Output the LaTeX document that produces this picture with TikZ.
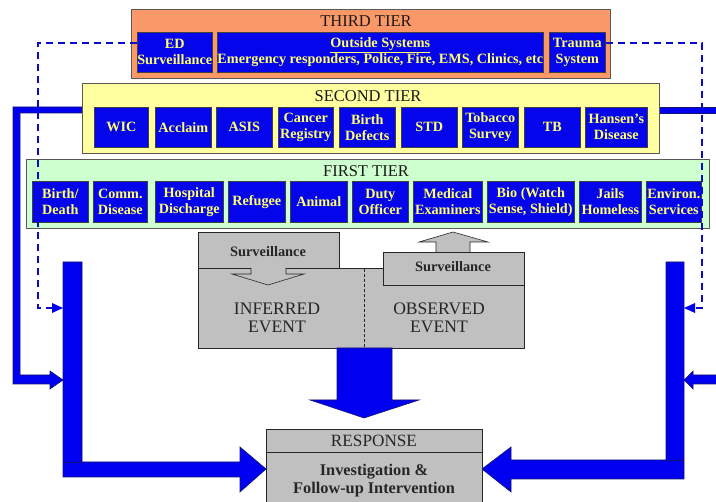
\documentclass[tikz,border=0pt]{standalone}
\usepackage{fontspec}
\setmainfont{Liberation Serif}
\definecolor{boxblue}{RGB}{5,5,235}
\definecolor{txtyellow}{RGB}{255,255,110}
\definecolor{tierorange}{RGB}{250,152,104}
\definecolor{tieryellow}{RGB}{255,255,160}
\definecolor{tiergreen}{RGB}{206,255,206}
\definecolor{graybox}{RGB}{192,192,192}
\definecolor{linkblue}{RGB}{0,0,240}
\definecolor{dashblue}{RGB}{10,10,200}
\definecolor{edgeblue}{RGB}{20,20,110}
\begin{document}
\begin{tikzpicture}[x=1pt,y=-1pt,
  tier/.style={draw=black!65, line width=0.8pt, inner sep=0pt, anchor=north west},
  tiertitle/.style={text=black!90, font=\fontsize{16.5}{17}\selectfont, inner sep=0pt},
  bbox/.style={draw=black!75, line width=0.6pt, fill=boxblue, text=txtyellow,
    font=\bfseries\fontsize{14.2}{16}\selectfont, align=center, inner sep=0pt, anchor=north west},
  gbox/.style={draw=black!85, line width=0.8pt, fill=graybox, inner sep=0pt, anchor=north west},
  gtext/.style={font=\fontsize{17.6}{17.5}\selectfont, align=center, text=black!85, inner sep=0pt},
  stext/.style={font=\bfseries\fontsize{14.4}{15}\selectfont, text=black!85, inner sep=0pt},
  fat/.style={fill=linkblue, draw=edgeblue, line width=0.6pt},
  dashlink/.style={draw=dashblue, line width=1.5pt, dash pattern=on 7pt off 5pt},
  dashtip/.style={fill=linkblue, draw=none}
]
\useasboundingbox (0,0) rectangle (716,502);
\clip (0,0) rectangle (716,502);

% ---- thick blue side connectors (behind) ----
\fill[white] (0,0) rectangle (716,502);
\path[fat] (82,107) -- (13,107) -- (13,384) -- (50,384) -- (50,389) -- (63,380) -- (50,371) -- (50,375) -- (20,375) -- (20,113) -- (82,113) -- cycle;
\path[fat] (659,107) -- (730,107) -- (730,113) -- (659,113) -- cycle;
\path[fat] (730,375) -- (693,375) -- (693,371) -- (684,380) -- (693,389) -- (693,384) -- (730,384) -- cycle;

% ---- THIRD TIER ----
\node[tier, fill=tierorange, minimum width=479pt, minimum height=69pt] (t3) at (131,9) {};
\node[tiertitle] (t3title) at (366,21) {THIRD TIER};
\node[bbox, minimum width=74pt, minimum height=40pt] (ed) at (137,32) {ED\\Surveillance};
\node[bbox, minimum width=326pt, minimum height=40pt] (outside) at (217,32) {\underline{Outside Systems}\\Emergency responders, Police, Fire, EMS, Clinics, etc};
\node[bbox, minimum width=56pt, minimum height=40pt] (trauma) at (549,32) {Trauma\\System};

% ---- SECOND TIER ----
\node[tier, fill=tieryellow, minimum width=577pt, minimum height=70pt] (t2) at (82,83) {};
\node[tiertitle] (t2title) at (368,96) {SECOND TIER};
\node[bbox, minimum width=54pt, minimum height=40pt] (wic) at (94,107) {WIC};
\node[bbox, minimum width=56pt, minimum height=40pt] (acclaim) at (155,107) {Acclaim};
\node[bbox, minimum width=56pt, minimum height=40pt] (asis) at (216,107) {ASIS};
\node[bbox, minimum width=55pt, minimum height=40pt] (cancer) at (278,107) {Cancer\\Registry};
\node[bbox, minimum width=56pt, minimum height=40pt] (defects) at (339,107) {Birth\\Defects};
\node[bbox, minimum width=56pt, minimum height=40pt] (std) at (401,107) {STD};
\node[bbox, minimum width=56pt, minimum height=40pt] (tobacco) at (462,107) {Tobacco\\Survey};
\node[bbox, minimum width=56pt, minimum height=40pt] (tb) at (524,107) {TB};
\node[bbox, minimum width=62pt, minimum height=40pt] (hansen) at (585,107) {Hansen's\\Disease};

% ---- FIRST TIER ----
\node[tier, fill=tiergreen, minimum width=683pt, minimum height=69pt] (t1) at (26,159) {};
\node[tiertitle] (t1title) at (366,171) {FIRST TIER};
\node[bbox, minimum width=56pt, minimum height=41pt] (bd) at (32,181) {Birth/\\Death};
\node[bbox, minimum width=54pt, minimum height=41pt] (comm) at (93,181) {Comm.\\Disease};
\node[bbox, minimum width=68pt, minimum height=41pt] (hosp) at (155,181) {Hospital\\Discharge};
\node[bbox, minimum width=57pt, minimum height=41pt] (refugee) at (228,181) {Refugee};
\node[bbox, minimum width=57pt, minimum height=41pt] (animal) at (290,181) {Animal};
\node[bbox, minimum width=56pt, minimum height=41pt] (duty) at (352,181) {Duty\\Officer};
\node[bbox, minimum width=69pt, minimum height=41pt] (medical) at (413,181) {Medical\\Examiners};
\node[bbox, minimum width=87pt, minimum height=41pt] (bio) at (487,181) {Bio (Watch\\Sense, Shield)};
\node[bbox, minimum width=62pt, minimum height=41pt] (jails) at (579,181) {Jails\\Homeless};
\node[bbox, minimum width=55pt, minimum height=41pt] (environ) at (646,181) {Environ.\\Services};

% ---- big side bars with arrows to RESPONSE ----
\path[fat] (63,262) -- (82,262) -- (82,462) -- (240,462) -- (240,447) -- (266,469) -- (240,492) -- (240,477) -- (63,477) -- cycle;
\draw[edgeblue, line width=0.6pt] (63,462) -- (82,462);
\path[fat] (666,262) -- (684,262) -- (684,479) -- (511,479) -- (511,492) -- (482,469) -- (511,447) -- (511,460) -- (666,460) -- cycle;
\draw[edgeblue, line width=0.6pt] (666,460) -- (684,460);

% ---- dashed links from third tier ----
\coordinate (dl1) at (38,43);
\coordinate (dl2) at (38,308);
\coordinate (dr1) at (702,43);
\coordinate (dr2) at (702,308);
\draw[dashlink] (ed.west |- 0,43) -- (dl1) -- (dl2) -- (52,308);
\path[dashtip] (52,303) -- (63,308) -- (52,313) -- cycle;
\draw[dashlink] (trauma.east |- 0,43) -- (dr1) -- (dr2) -- (695,308);
\path[dashtip] (695,303) -- (684,308) -- (695,313) -- cycle;

% ---- event block ----
\node[gbox, minimum width=326pt, minimum height=80pt] (event) at (198,268) {};
\node[gbox, minimum width=141pt, minimum height=36pt] (survL) at (198,232) {};
\node[gbox, minimum width=141pt, minimum height=33pt] (survR) at (383,252) {};
\draw[black!85, dash pattern=on 3pt off 2pt, line width=0.6pt] (364,269) -- (364,347);
\filldraw[fill=graybox, draw=black!85, line width=0.6pt] (251,268) -- (251,274) -- (232,274) -- (268,285) -- (304,274) -- (286,274) -- (286,268);
\filldraw[fill=graybox, draw=black!85, line width=0.6pt] (436,252) -- (436,242) -- (419,242) -- (453,232) -- (488,242) -- (470,242) -- (470,252);
\node[stext] at (268,252) {Surveillance};
\node[stext] at (453,267) {Surveillance};
\node[gtext] (inferred) at (277,318) {INFERRED\\EVENT};
\node[gtext] (observed) at (439,318) {OBSERVED\\EVENT};

% ---- big down arrow ----
\path[fat] (337,348) -- (392,348) -- (392,400) -- (419,400) -- (364,418) -- (310,400) -- (337,400) -- cycle;

% ---- RESPONSE ----
\node[gbox, minimum width=216pt, minimum height=80pt] (resp) at (266,429) {};
\draw[black!85, line width=0.8pt] (266,452) -- (482,452);
\node[gtext, font=\fontsize{17.2}{17}\selectfont] (resptitle) at (374,441) {RESPONSE};
\node[gtext, font=\bfseries\fontsize{16.3}{18}\selectfont] (resptext) at (374,481) {Investigation \&\\Follow-up Intervention};
\end{tikzpicture}
\end{document}
